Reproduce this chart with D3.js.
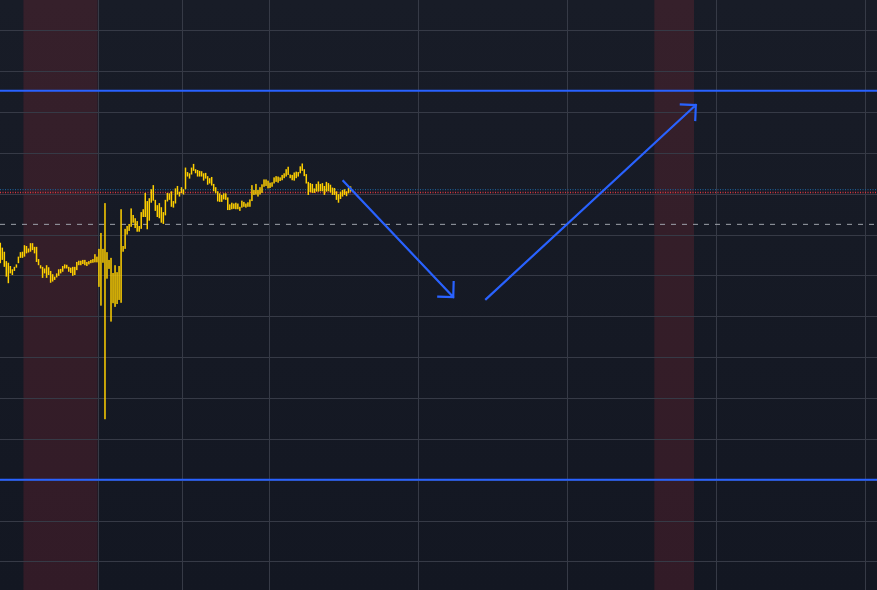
<!DOCTYPE html>
<html><head><meta charset="utf-8">
<script src="https://cdn.jsdelivr.net/npm/d3@7"></script>
<style>html,body{margin:0;padding:0;background:#161a25;overflow:hidden}</style>
</head><body>
<svg id="chart" width="877" height="590"></svg>
<script>
// bar highs / lows (price units), one per bar index
const highs = [78.0,76.8,75.8,73.5,73.1,72.3,71.5,72.1,72.7,74.6,75.7,75.8,77.4,77.2,76.6,77.9,77.9,77.0,77.0,74.0,
72.5,72.1,71.7,72.5,72.0,71.1,70.3,69.7,70.5,71.5,71.6,72.3,72.7,72.6,72.1,71.9,72.1,72.1,73.3,73.6,
73.6,73.8,73.8,73.3,73.5,73.8,74.0,75.2,74.6,76.5,80.4,76.5,87.7,75.7,73.8,74.3,70.6,72.5,70.8,72.3,
86.2,77.2,81.4,82.1,82.6,86.4,84.8,84.0,83.3,82.1,85.5,86.2,90.2,88.2,88.9,91.1,92.1,88.5,87.2,87.7,
86.7,85.5,88.5,90.2,90.1,90.6,88.2,91.3,91.9,90.5,91.6,91.1,96.4,95.3,95.0,96.4,97.3,96.0,95.8,95.6,
95.5,95.0,95.1,94.3,93.8,94.1,92.4,91.6,90.6,90.1,89.7,90.1,90.1,89.1,87.4,87.8,87.6,87.8,87.6,86.8,
88.3,88.0,87.6,87.9,88.6,92.1,90.9,92.4,90.9,91.6,92.3,93.5,93.5,93.2,92.7,92.8,94.0,94.3,94.2,94.0,
94.6,95.0,96.0,96.6,94.7,94.6,95.2,95.4,95.3,96.7,97.4,96.0,94.8,92.9,92.6,92.4,91.3,92.4,93.0,92.4,
92.6,91.9,92.9,92.6,92.2,91.5,91.4,90.6,89.9,90.5,90.9,91.1,90.6,91.5,91.8];
const lows = [73.0,73.8,72.1,69.7,68.1,70.5,70.1,71.1,71.9,73.0,74.3,74.3,74.6,75.4,75.6,75.8,76.2,75.4,73.3,72.5,
71.7,69.4,70.5,69.4,70.1,68.2,68.5,68.9,69.5,69.9,70.5,70.9,71.7,71.7,70.9,70.6,69.9,70.1,71.3,72.5,
72.5,72.8,72.5,72.3,72.7,73.0,73.1,73.2,73.2,67.2,62.6,73.1,34.8,69.2,71.6,58.7,63.2,62.3,63.0,64.0,
63.3,75.8,76.5,80.0,80.9,81.9,82.9,81.6,80.7,80.7,81.4,84.3,84.3,81.3,83.4,87.8,88.3,85.8,84.3,84.0,
82.9,82.6,84.7,88.1,88.5,86.8,86.6,87.6,89.8,89.3,90.1,89.8,91.1,94.2,93.7,94.7,95.6,95.0,94.2,94.2,
94.2,93.2,93.7,92.2,92.5,92.0,90.6,90.1,88.1,88.0,88.0,88.6,88.5,86.0,86.0,86.2,86.3,86.2,86.2,85.8,
86.6,86.8,86.6,86.8,86.8,88.2,89.7,89.8,89.3,89.8,90.2,91.7,91.9,91.3,91.4,91.7,92.5,92.9,92.7,93.1,
93.3,93.8,94.2,94.6,93.8,93.3,93.2,93.8,94.2,95.0,95.6,94.3,92.5,89.7,90.4,90.2,90.2,90.5,90.5,90.6,
90.6,89.7,90.5,90.6,90.3,89.7,89.7,88.5,87.8,88.7,89.3,89.7,89.4,90.1,90.5];

const priceTicks = d3.range(0, 141, 10);              // horizontal grid values
const timeTicks = [48.3, 90.3, 133.5, 207.5, 281.5, 355.5, 429.6]; // vertical grid (bar index)
const bands = [[11.5, 48.3], [324.9, 344.6]];          // highlighted sessions (bar index)
const hLevels = [115.2, 20.0];                         // solid blue levels
const redDotted = 90.3, blueDotted = 91.0, greyDashed = 82.5;
const arrows = [[170.4, 93.1, 225.0, 64.7], [241.3, 64.2, 345.5, 111.7]];

const W = 877, H = 590;
const svg = d3.select('#chart');
const x = d3.scaleLinear().domain([0, 435.5]).range([0.3, 877]);
const y = d3.scaleLinear().domain([0, 130]).range([561.4, 30.3]);

const defs = svg.append('defs');
const g = defs.append('linearGradient').attr('id','bg').attr('x1',0).attr('y1',0).attr('x2',0).attr('y2',1);
g.append('stop').attr('offset','0%').attr('stop-color','#181c27');
g.append('stop').attr('offset','100%').attr('stop-color','#131722');
svg.append('rect').attr('width',W).attr('height',H).attr('fill','url(#bg)');

// session bands
svg.selectAll('.band').data(bands).enter().append('rect')
  .attr('x', d => x(d[0])).attr('width', d => x(d[1]) - x(d[0]))
  .attr('y', 0).attr('height', H).attr('fill', 'rgba(242,54,69,0.14)');

// grid via axes
const gridColor = '#363a46';
const yAxis = d3.axisRight(y).tickValues(priceTicks).tickSize(W).tickFormat('');
const ya = svg.append('g').call(yAxis);
ya.select('.domain').remove();
ya.selectAll('line').attr('stroke', gridColor).attr('stroke-width', 1).attr('shape-rendering','crispEdges');
const xAxis = d3.axisBottom(x).tickValues(timeTicks).tickSize(H).tickFormat('');
const xa = svg.append('g').call(xAxis);
xa.select('.domain').remove();
xa.selectAll('line').attr('stroke', gridColor).attr('stroke-width', 1).attr('shape-rendering','crispEdges');

// reference lines
function hline(v, color, dash, w) {
  svg.append('line').attr('x1',0).attr('x2',W).attr('y1',y(v)).attr('y2',y(v))
    .attr('stroke',color).attr('stroke-width',w).attr('stroke-dasharray',dash);
}
hline(greyDashed, '#9da1ab', '5,6', 1);
hline(blueDotted, '#1d5b8f', '1,1.5', 1.3);
hline(redDotted, '#d8353f', '1,1.5', 1.3);
hLevels.forEach(v => hline(v, '#2962ff', null, 2));

// bars
svg.append('g').selectAll('rect').data(highs.map((h,i)=>({i, h, l: lows[i]}))).enter().append('rect')
  .attr('x', d => x(d.i) - 0.75).attr('width', 1.5)
  .attr('y', d => y(d.h)).attr('height', d => Math.max(1, y(d.l) - y(d.h)))
  .attr('fill', '#ffd000');

// arrows
arrows.forEach(a => {
  const x1 = x(a[0]), y1 = y(a[1]), x2 = x(a[2]), y2 = y(a[3]);
  const ang = Math.atan2(y1 - y2, x1 - x2);
  const L = 15;
  const p = d3.path();
  p.moveTo(x1, y1); p.lineTo(x2, y2);
  p.moveTo(x2 + L*Math.cos(ang - Math.PI/4), y2 + L*Math.sin(ang - Math.PI/4));
  p.lineTo(x2, y2);
  p.lineTo(x2 + L*Math.cos(ang + Math.PI/4), y2 + L*Math.sin(ang + Math.PI/4));
  svg.append('path').attr('d', p.toString()).attr('fill','none')
    .attr('stroke','#2962ff').attr('stroke-width',2.2).attr('stroke-linecap','square');
});
</script>
</body></html>
